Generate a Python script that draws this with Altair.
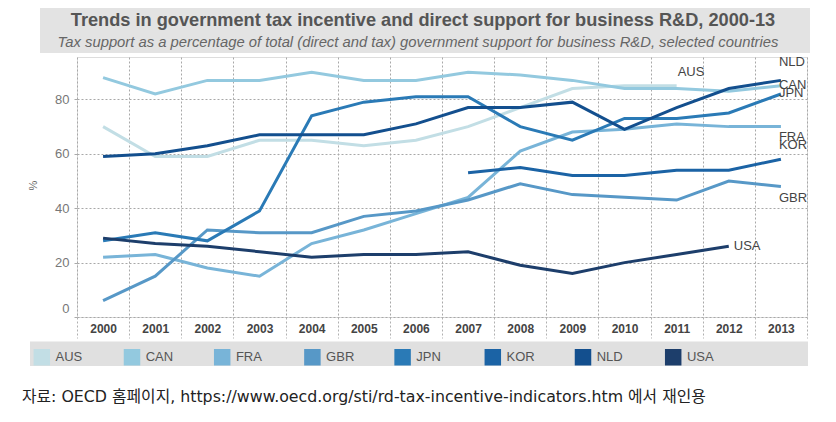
import altair as alt
import pandas as pd

countries = ["AUS", "CAN", "FRA", "GBR", "JPN", "KOR", "NLD", "USA"]
years = list(range(2000, 2014))
aus = [70, 59, 59, 65, 65, 63, 65, 70, 77, 84, 85, 85, None, None]
can = [88, 82, 87, 87, 90, 87, 87, 90, 89, 87, 84, 84, 83, 85]
fra = [22, 23, 18, 15, 27, 32, 38, 44, 61, 68, 69, 71, 70, 70]
gbr = [6, 15, 32, 31, 31, 37, 39, 43, 49, 45, 44, 43, 50, 48]
jpn = [28, 31, 28, 39, 74, 79, 81, 81, 70, 65, 73, 73, 75, 82]
kor = [None, None, None, None, None, None, None, 53, 55, 52, 52, 54, 54, 58]
nld = [59, 60, 63, 67, 67, 67, 71, 77, 77, 79, 69, 77, 84, 87]
usa = [29, 27, 26, 24, 22, 23, 23, 24, 19, 16, 20, 23, 26, None]
series = [aus, can, fra, gbr, jpn, kor, nld, usa]

colors = ["#c2dee5", "#93c9df", "#78b4d8", "#5798c7", "#2a7ab6", "#1b63a5", "#134f8e", "#1d3e6b"]

title_text = "Trends in government tax incentive and direct support for business R&D, 2000-13"
subtitle_text = "Tax support as a percentage of total (direct and tax) government support for business R&D, selected countries"
caption_text = "자료: OECD 홈페이지, https://www.oecd.org/sti/rd-tax-incentive-indicators.htm 에서 재인용"

FONT = "Liberation Sans, Arial, sans-serif"

rows = []
for c, vals in zip(countries, series):
    for y, v in zip(years, vals):
        rows.append({"country": c, "year": y, "value": v})
df = pd.DataFrame(rows)
last_df = df.dropna().groupby("country").tail(1).reset_index(drop=True)

W, H = 730, 260

x_enc = alt.X(
    "year:O",
    scale=alt.Scale(type="band", paddingInner=0, paddingOuter=0),
    axis=alt.Axis(
        title=None, tickBand="extent", grid=True, gridDash=[2, 2], gridColor="#a8a8a8",
        ticks=True, tickSize=21, tickDash=[2, 2], tickColor="#b0b0b0", domain=False,
        labelPadding=-15, labelFont=FONT, labelFontSize=12, labelFontWeight="bold",
        labelColor="#444", labelAngle=0,
    ),
)
y_enc = alt.Y(
    "value:Q",
    scale=alt.Scale(domain=[0, 95.6], nice=False, zero=True),
    axis=alt.Axis(
        values=[0, 20, 40, 60, 80], title="%", titleX=-39, titleY=128, titleFont=FONT,
        titleFontSize=11, titleFontWeight="normal", titleColor="#666",
        grid=True, gridDash=[2, 2], gridColor="#a8a8a8", domain=False,
        tickSize=3, tickColor="#aaa", labelPadding=5, labelFont=FONT,
        labelFontSize=13, labelColor="#777",
        labelOffset={"condition": {"test": "datum.value === 0", "value": -9}, "value": 0},
    ),
)
# legend swatches: a tiny square with a thick stroke renders as a solid block
color_enc = alt.Color(
    "country:N",
    scale=alt.Scale(domain=countries, range=colors),
    legend=alt.Legend(
        title=None, orient="none", legendX=-43.7, legendY=291.5, direction="horizontal",
        columns=8, gridAlign="all", columnPadding=17.2, symbolType="square",
        symbolSize=4, symbolStrokeWidth=14.5, symbolOpacity=1, labelOffset=5.2, padding=0,
        labelFont=FONT, labelFontSize=13, labelColor="#555",
    ),
)

one = pd.DataFrame({"k": [0]})

title_band = alt.Chart(one).mark_rect(color="#e3e3e3").encode(
    x=alt.value(-37), x2=alt.value(733), y=alt.value(-49), y2=alt.value(-4)
)
legend_band = alt.Chart(one).mark_rect(color="#e0e0e0").encode(
    x=alt.value(-47), x2=alt.value(731), y=alt.value(284.5), y2=alt.value(309)
)
title_mark = alt.Chart(one).mark_text(
    text=title_text, font=FONT, fontSize=18.2, fontWeight="bold", color="#555",
    align="center", baseline="middle",
).encode(x=alt.value(346), y=alt.value(-36))
subtitle_mark = alt.Chart(one).mark_text(
    text=subtitle_text, font=FONT, fontSize=14.8, fontStyle="italic", color="#666",
    align="center", baseline="middle",
).encode(x=alt.value(341), y=alt.value(-14))
caption_mark = alt.Chart(one).mark_text(
    text=caption_text, font="DejaVu Sans, Noto Sans CJK KR", fontSize=15.8, color="#222",
    align="left", baseline="middle",
).encode(x=alt.value(-55), y=alt.value(340))

lines = alt.Chart(df).mark_line(strokeWidth=3).encode(
    x=x_enc, y=y_enc, color=color_enc, detail="country:N"
)

offsets = {
    "AUS": (1, -14), "CAN": (-2, -1), "FRA": (-2, 10), "GBR": (-2, 12),
    "JPN": (-2, -1), "KOR": (-2, -14), "NLD": (-2, -18), "USA": (5, 0),
}
label_layers = []
for c in countries:
    dx, dy = offsets[c]
    label_layers.append(
        alt.Chart(last_df).transform_filter(alt.datum.country == c).mark_text(
            align="left", baseline="middle", dx=dx, dy=dy, font=FONT,
            fontSize=13, color="#444",
        ).encode(x=alt.X("year:O"), y=alt.Y("value:Q"), text="country:N")
    )

chart = alt.layer(
    title_band, legend_band, lines, *label_layers,
    title_mark, subtitle_mark, caption_mark
).properties(
    width=W, height=H, autosize=alt.AutoSizeParams(type="none"),
    padding={"left": 77, "top": 57, "right": 29, "bottom": 105},
).configure_view(stroke="#b5b5b5", fill="#f3f6fb").configure(background="white")

chart.save("out.html", embed_options={"renderer": "svg", "actions": False})
